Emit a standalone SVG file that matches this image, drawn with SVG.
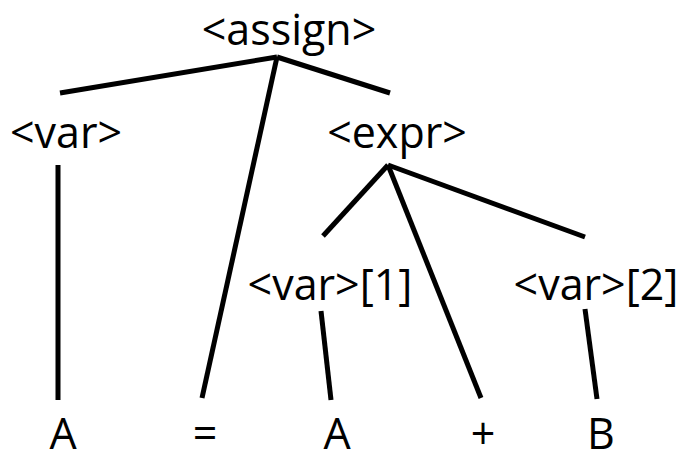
<svg xmlns="http://www.w3.org/2000/svg" width="686" height="462" viewBox="0 0 686 462">
<style>
text{font-family:"Open Sans","Noto Sans","Liberation Sans",sans-serif;font-size:43px;fill:#000;text-anchor:middle}
.e{stroke:#000;stroke-width:5;stroke-linecap:butt;fill:none}
</style>
<rect width="686" height="462" fill="#fff"/>
<g id="connectors">
<line class="e" x1="277" y1="57" x2="60" y2="93"/>
<line class="e" x1="277" y1="57" x2="390" y2="93"/>
<line class="e" x1="277" y1="57" x2="202" y2="398"/>
<line class="e" x1="58" y1="165" x2="58" y2="400"/>
<line class="e" x1="388" y1="165" x2="323" y2="236"/>
<line class="e" x1="388" y1="165" x2="585" y2="237"/>
<line class="e" x1="388" y1="165" x2="481" y2="398"/>
<line class="e" x1="321" y1="311" x2="331" y2="400"/>
<line class="e" x1="585" y1="309" x2="597" y2="399"/>
</g>
<g id="assign"><text x="289" y="45">&lt;assign&gt;</text></g>
<g id="var"><text x="66" y="148">&lt;var&gt;</text></g>
<g id="expr"><text x="397" y="148">&lt;expr&gt;</text></g>
<g id="var1"><text x="330" y="300">&lt;var&gt;[1]</text></g>
<g id="var2"><text x="596" y="300">&lt;var&gt;[2]</text></g>
<g id="A1"><text x="63" y="449">A</text></g>
<g id="eq"><text x="205" y="449">=</text></g>
<g id="A2"><text x="337" y="449">A</text></g>
<g id="plus"><text x="483" y="449">+</text></g>
<g id="B"><text x="601" y="449">B</text></g>
</svg>
